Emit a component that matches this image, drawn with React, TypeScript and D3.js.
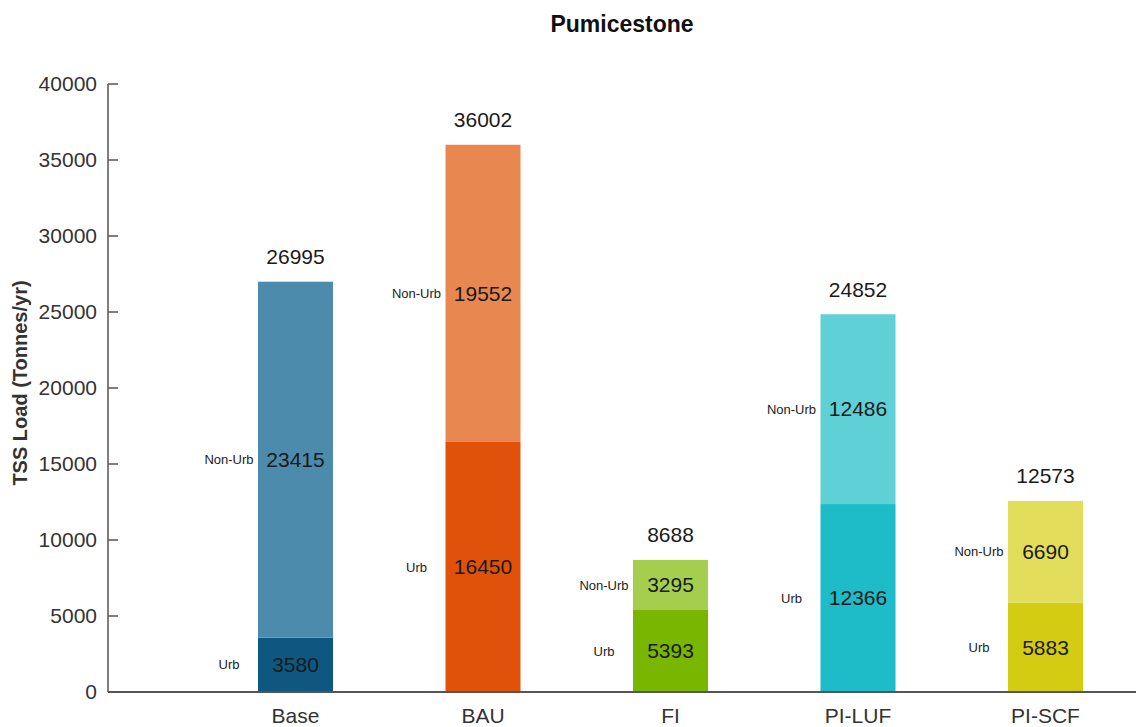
import React from "react";
import * as d3 from "d3";

const categories = ["Base", "BAU", "FI", "PI-LUF", "PI-SCF"];
const urbValues = [3580, 16450, 5393, 12366, 5883];
const nonUrbValues = [23415, 19552, 3295, 12486, 6690];
const totals = [26995, 36002, 8688, 24852, 12573];
const yTicks = [0, 5000, 10000, 15000, 20000, 25000, 30000, 35000, 40000];
const urbColors = ["#0E5781", "#E0520A", "#78B600", "#1EBCC9", "#D4CC12"];
const nonUrbColors = ["#4C8BAC", "#E8874F", "#A5CE4F", "#5ED0D6", "#E2DE5B"];

const W = 1136;
const H = 727;
const FONT = "'Liberation Sans', Arial, Helvetica, sans-serif";

export default function App() {
  const x = d3.scaleLinear().domain([0, 6]).range([108, 1233]);
  const y = d3.scaleLinear().domain([0, 40000]).range([692, 84]);
  const barW = x(0.4) - x(0);
  const x0 = x.range()[0];
  const y0 = y(0);

  return (
    <svg
      width={W}
      height={H}
      style={{ position: "absolute", left: 0, top: 0, background: "#fff" }}
      fontFamily={FONT}
    >
      <text x={622} y={24} dy="0.35em" textAnchor="middle" fontSize={23} fontWeight="bold" fill="#111">
        Pumicestone
      </text>
      <text
        transform={`translate(20,${(y(0) + y(40000)) / 2 - 5}) rotate(-90)`}
        dy="0.35em"
        textAnchor="middle"
        fontSize={20}
        fontWeight="bold"
        fill="#333"
      >
        TSS Load (Tonnes/yr)
      </text>

      {categories.map((c, i) => {
        const cx = x(i + 1);
        const left = cx - barW / 2;
        const u = urbValues[i];
        const n = nonUrbValues[i];
        const labelX = left - 29;
        return (
          <g key={c}>
            <rect x={left} y={y(u)} width={barW} height={y0 - y(u)} fill={urbColors[i]} />
            <rect x={left} y={y(u + n)} width={barW} height={y(u) - y(u + n)} fill={nonUrbColors[i]} />
            <text x={cx} y={y(u / 2)} dy="0.35em" textAnchor="middle" fontSize={21} fill="#1a1a1a">
              {u}
            </text>
            <text x={cx} y={y(u + n / 2)} dy="0.35em" textAnchor="middle" fontSize={21} fill="#1a1a1a">
              {n}
            </text>
            <text x={labelX} y={y(u / 2)} dy="0.35em" textAnchor="middle" fontSize={13} fill="#222">
              Urb
            </text>
            <text x={labelX} y={y(u + n / 2)} dy="0.35em" textAnchor="middle" fontSize={13} fill="#222">
              Non-Urb
            </text>
            <text x={cx} y={y(totals[i]) - 25} dy="0.35em" textAnchor="middle" fontSize={21} fill="#1a1a1a">
              {totals[i]}
            </text>
            <text x={cx} y={y0 + 24} dy="0.35em" textAnchor="middle" fontSize={21} fill="#333">
              {c}
            </text>
          </g>
        );
      })}

      <line x1={x0} x2={x0} y1={y(40000)} y2={y0} stroke="#555" strokeWidth={1.5} />
      <line x1={x0} x2={W} y1={y0} y2={y0} stroke="#555" strokeWidth={2} />
      {yTicks.map((t) => (
        <g key={t}>
          <line x1={x0} x2={x0 + 10} y1={y(t)} y2={y(t)} stroke="#555" strokeWidth={1.5} />
          <text x={x0 - 11} y={y(t)} dy="0.35em" textAnchor="end" fontSize={21} fill="#333">
            {t}
          </text>
        </g>
      ))}
    </svg>
  );
}
